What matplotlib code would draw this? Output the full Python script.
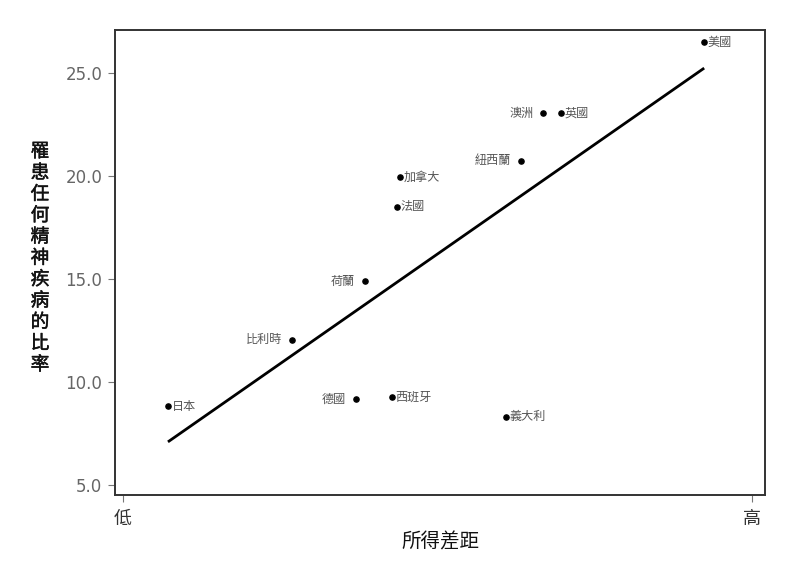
import matplotlib
matplotlib.use("Agg")
import matplotlib.pyplot as plt
import matplotlib.patheffects as pe

plt.rcParams['font.family'] = ['Noto Sans CJK TC', 'DejaVu Sans']

countries = ['日本', '比利時', '荷蘭', '德國', '西班牙', '法國', '加拿大', '義大利', '紐西蘭', '澳洲', '英國', '美國']
income_gap = [0.0715, 0.269, 0.385, 0.370, 0.428, 0.436, 0.440, 0.609, 0.633, 0.668, 0.696, 0.924]
illness_rate = [8.83, 12.04, 14.9, 9.17, 9.27, 18.5, 19.95, 8.3, 20.73, 23.06, 23.06, 26.5]
label_side = ['right', 'left', 'left', 'left', 'right', 'right', 'right', 'right', 'left', 'left', 'right', 'right']
trend_x = [0.0715, 0.924]
trend_y = [7.09, 25.24]
yticks = [5.0, 10.0, 15.0, 20.0, 25.0]
xtick_pos = [0, 1]
xtick_labels = ['低', '高']

fig = plt.figure(figsize=(8, 5.62), dpi=100)
ax = fig.add_axes([0.14375, 0.1192, 0.8125, 0.8274])

ax.plot(trend_x, trend_y, color='black', lw=2.0, solid_capstyle='butt')
ax.scatter(income_gap, illness_rate, s=14, color='black', zorder=3)

for name, x, y, side in zip(countries, income_gap, illness_rate, label_side):
    if side == 'right':
        ax.annotate(name, (x, y), xytext=(2.5, 0), textcoords='offset points',
                    ha='left', va='center', fontsize=8.7, color='#555555')
    else:
        ax.annotate(name, (x, y), xytext=(-7, 0), textcoords='offset points',
                    ha='right', va='center', fontsize=8.7, color='#555555')

ax.set_xlim(-0.0127, 1.0207)
ax.set_ylim(4.51, 27.09)
ax.set_yticks(yticks)
ax.set_yticklabels([f'{v:.1f}' for v in yticks], fontsize=12, color='#666666',
                   family=['DejaVu Sans'])
ax.set_xticks(xtick_pos)
ax.set_xticklabels(xtick_labels, fontsize=13, color='#333333')
ax.tick_params(axis='both', direction='out', length=5, width=0.8, color='#777777')
ax.tick_params(axis='y', pad=4)
ax.tick_params(axis='x', pad=6)

for s in ax.spines.values():
    s.set_color('#333333')
    s.set_linewidth(1.4)

ax.set_xlabel('所得差距', fontsize=14, color='#111111', labelpad=2)
fig.text(40/800, 1 - 258/562, '\n'.join('罹患任何精神疾病的比率'), ha='center', va='center',
         fontsize=13.5, color='#111111', linespacing=1.02,
         path_effects=[pe.withStroke(linewidth=0.35, foreground='#111111')])

fig.savefig('out.png', dpi=100)
